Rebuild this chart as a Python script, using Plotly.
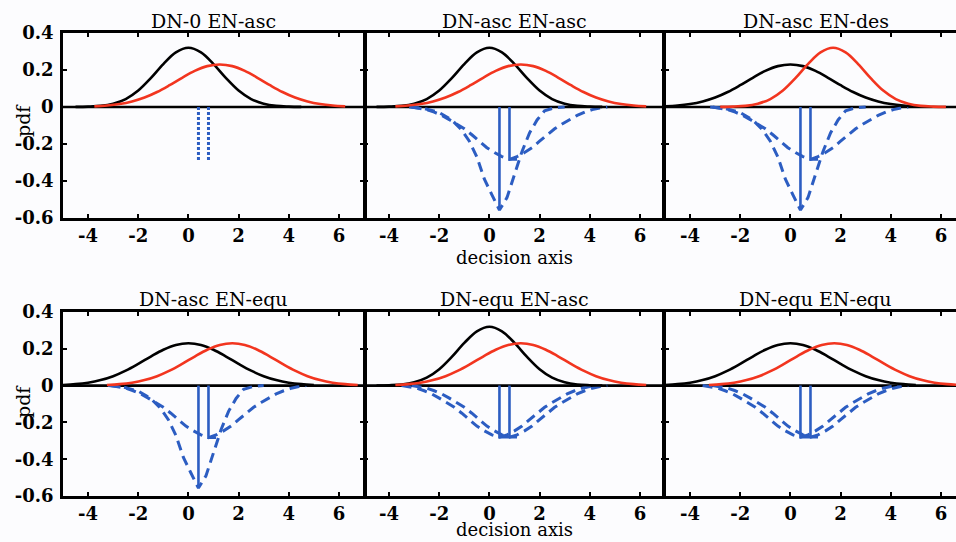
import plotly.graph_objects as go

W, H = 956, 542

# ---------------- data ----------------
X_TICKS = [-4, -2, 0, 2, 4, 6]
Y_TICKS = [-0.6, -0.4, -0.2, 0, 0.2, 0.4]
Y_TICK_TEXT = ["-0.6", "-0.4", "-0.2", "0", "0.2", "0.4"]
PANEL_TITLES = ["DN-0 EN-asc", "DN-asc EN-asc", "DN-asc EN-des",
                "DN-asc EN-equ", "DN-equ EN-asc", "DN-equ EN-equ"]
X_LABEL = "decision axis"
Y_LABEL = "pdf"

# black (noise) pdfs
BLACK_NARROW_X = [-4.5, -4.0, -3.5, -3.0, -2.5, -2.0, -1.5, -1.0, -0.5, 0.0,
                  0.5, 1.0, 1.5, 2.0, 2.5, 3.0, 3.5, 4.0, 4.5]
BLACK_NARROW_Y = [0.0005, 0.002, 0.006, 0.018, 0.043, 0.089, 0.156, 0.232, 0.295, 0.32,
                  0.295, 0.232, 0.156, 0.089, 0.043, 0.018, 0.006, 0.002, 0.0005]
BLACK_BROAD_X = [-5.0, -4.5, -4.0, -3.5, -3.0, -2.5, -2.0, -1.5, -1.0, -0.5, 0.0,
                 0.5, 1.0, 1.5, 2.0, 2.5, 3.0, 3.5, 4.0, 4.5, 5.0]
BLACK_BROAD_Y = [0.0036, 0.0079, 0.016, 0.030, 0.051, 0.081, 0.118, 0.158, 0.195, 0.221, 0.23,
                 0.221, 0.195, 0.158, 0.118, 0.081, 0.051, 0.030, 0.016, 0.0079, 0.0036]

# red (signal) pdfs
RED_ASC_X = [-3.75, -3.25, -2.75, -2.25, -1.75, -1.25, -0.75, -0.25, 0.25, 0.75, 1.25,
             1.75, 2.25, 2.75, 3.25, 3.75, 4.25, 4.75, 5.25, 5.75, 6.25]
RED_ASC_Y = [0.0036, 0.0079, 0.016, 0.030, 0.051, 0.081, 0.118, 0.158, 0.195, 0.221, 0.23,
             0.221, 0.195, 0.158, 0.118, 0.081, 0.051, 0.030, 0.016, 0.0079, 0.0036]
RED_DES_X = [-2.8, -2.3, -1.8, -1.3, -0.8, -0.3, 0.2, 0.7, 1.2, 1.7,
             2.2, 2.7, 3.2, 3.7, 4.2, 4.7, 5.2, 5.7, 6.2]
RED_DES_Y = [0.0005, 0.002, 0.006, 0.018, 0.043, 0.089, 0.156, 0.232, 0.295, 0.32,
             0.295, 0.232, 0.156, 0.089, 0.043, 0.018, 0.006, 0.002, 0.0005]
RED_EQU_X = [-3.25, -2.75, -2.25, -1.75, -1.25, -0.75, -0.25, 0.25, 0.75, 1.25, 1.75,
             2.25, 2.75, 3.25, 3.75, 4.25, 4.75, 5.25, 5.75, 6.25, 6.75]
RED_EQU_Y = [0.0036, 0.0079, 0.016, 0.030, 0.051, 0.081, 0.118, 0.158, 0.195, 0.221, 0.23,
             0.221, 0.195, 0.158, 0.118, 0.081, 0.051, 0.030, 0.016, 0.0079, 0.0036]

# blue dashed (inverted) decision distributions
DN_NARROW_X = [-3.2, -2.6, -2.0, -1.5, -1.1, -0.8, -0.5, -0.2, 0.1, 0.4,
               0.7, 1.0, 1.3, 1.6, 1.9, 2.2, 2.6, 3.0]
DN_NARROW_Y = [0.0, -0.008, -0.03, -0.07, -0.125, -0.185, -0.27, -0.39, -0.475, -0.557,
               -0.49, -0.37, -0.24, -0.14, -0.07, -0.02, -0.004, 0.0]
DN_BROAD_X = [-3.1, -2.8, -2.5, -2.2, -1.9, -1.6, -1.3, -1.0, -0.7, -0.4, -0.1, 0.2, 0.5, 0.8,
              1.1, 1.4, 1.7, 2.0, 2.3, 2.6, 2.9, 3.2, 3.5, 3.8, 4.1, 4.4, 4.7]
DN_BROAD_Y = [0.0, -0.005, -0.014, -0.028, -0.045, -0.068, -0.092, -0.118, -0.15, -0.185, -0.22,
              -0.246, -0.268, -0.283, -0.268, -0.246, -0.22, -0.185, -0.15, -0.118, -0.092,
              -0.068, -0.045, -0.028, -0.014, -0.005, 0.0]
EQU_A_X = [-3.5, -3.2, -2.9, -2.6, -2.3, -2.0, -1.7, -1.4, -1.1, -0.8, -0.5, -0.2, 0.1, 0.4,
           0.7, 1.0, 1.3, 1.6, 1.9, 2.2, 2.5, 2.8, 3.1, 3.4, 3.7, 4.0, 4.3]
EQU_A_Y = [0.0, -0.005, -0.014, -0.028, -0.045, -0.068, -0.092, -0.118, -0.15, -0.185, -0.22,
           -0.246, -0.268, -0.28, -0.268, -0.246, -0.22, -0.185, -0.15, -0.118, -0.092,
           -0.068, -0.045, -0.028, -0.014, -0.005, 0.0]
EQU_B_X = [-3.1, -2.8, -2.5, -2.2, -1.9, -1.6, -1.3, -1.0, -0.7, -0.4, -0.1, 0.2, 0.5, 0.8,
           1.1, 1.4, 1.7, 2.0, 2.3, 2.6, 2.9, 3.2, 3.5, 3.8, 4.1, 4.4, 4.7]
EQU_B_Y = [0.0, -0.005, -0.014, -0.028, -0.045, -0.068, -0.092, -0.118, -0.15, -0.185, -0.22,
           -0.246, -0.268, -0.28, -0.268, -0.246, -0.22, -0.185, -0.15, -0.118, -0.092,
           -0.068, -0.045, -0.028, -0.014, -0.005, 0.0]

# blue solid / dotted criterion markers
MARK_DEEP_X = [0.4, 0.4]
MARK_DEEP_Y = [0.0, -0.557]
MARK_SHALLOW_X = [0.8, 0.8, 1.1]
MARK_SHALLOW_Y = [0.0, -0.283, -0.283]
MARK_EQU1_X = [0.4, 0.4, 1.1]
MARK_EQU1_Y = [0.0, -0.28, -0.28]
MARK_EQU2_X = [0.8, 0.8]
MARK_EQU2_Y = [0.0, -0.28]
DOT1_X = [0.4, 0.4]
DOT2_X = [0.8, 0.8]
DOT_Y = [0.0, -0.29]
ZERO_X = [-5, 7]
ZERO_Y = [0, 0]

PANELS = [
    dict(black=(BLACK_NARROW_X, BLACK_NARROW_Y), red=(RED_ASC_X, RED_ASC_Y), kind="dot"),
    dict(black=(BLACK_NARROW_X, BLACK_NARROW_Y), red=(RED_ASC_X, RED_ASC_Y), kind="asc"),
    dict(black=(BLACK_BROAD_X, BLACK_BROAD_Y), red=(RED_DES_X, RED_DES_Y), kind="asc"),
    dict(black=(BLACK_BROAD_X, BLACK_BROAD_Y), red=(RED_EQU_X, RED_EQU_Y), kind="asc"),
    dict(black=(BLACK_NARROW_X, BLACK_NARROW_Y), red=(RED_ASC_X, RED_ASC_Y), kind="equ"),
    dict(black=(BLACK_BROAD_X, BLACK_BROAD_Y), red=(RED_EQU_X, RED_EQU_Y), kind="equ"),
]

# ---------------- styling ----------------
BLUE = "#2C5DC2"
RED = "#F2351F"
BLACK = "#000000"
SERIF = "DejaVu Serif"
DASH = "10px,6px"

COL_PX = [(63, 364), (364, 665), (665, 956)]
ROW_PX = [(33, 218), (312, 496)]
PX_PER_UNIT = 301 / 12.0

fig = go.Figure()


def add_line(ax, x, y, color, width, dash="solid", shape="linear"):
    fig.add_trace(go.Scatter(
        x=x, y=y, mode="lines", xaxis="x" + ax, yaxis="y" + ax,
        line=dict(color=color, width=width, dash=dash, shape=shape),
        showlegend=False, hoverinfo="skip"))


for i, p in enumerate(PANELS):
    n = i + 1
    ax = "" if n == 1 else str(n)
    add_line(ax, ZERO_X, ZERO_Y, BLACK, 2.6)
    if p["kind"] == "dot":
        add_line(ax, DOT1_X, DOT_Y, BLUE, 3, dash="3px,2px")
        add_line(ax, DOT2_X, DOT_Y, BLUE, 3, dash="3px,2px")
    elif p["kind"] == "asc":
        add_line(ax, DN_NARROW_X, DN_NARROW_Y, BLUE, 3, dash=DASH)
        add_line(ax, DN_BROAD_X, DN_BROAD_Y, BLUE, 3, dash=DASH)
        add_line(ax, MARK_DEEP_X, MARK_DEEP_Y, BLUE, 2.6)
        add_line(ax, MARK_SHALLOW_X, MARK_SHALLOW_Y, BLUE, 2.6)
    else:
        add_line(ax, EQU_A_X, EQU_A_Y, BLUE, 3, dash=DASH)
        add_line(ax, EQU_B_X, EQU_B_Y, BLUE, 3, dash=DASH)
        add_line(ax, MARK_EQU1_X, MARK_EQU1_Y, BLUE, 2.6)
        add_line(ax, MARK_EQU2_X, MARK_EQU2_Y, BLUE, 2.6)
    add_line(ax, p["black"][0], p["black"][1], BLACK, 2.6, shape="spline")
    add_line(ax, p["red"][0], p["red"][1], RED, 2.6, shape="spline")

layout = dict(
    width=W, height=H,
    margin=dict(l=0, r=0, t=0, b=0, autoexpand=False),
    paper_bgcolor="#FCFCFE", plot_bgcolor="#FCFCFE",
    showlegend=False,
)

annotations = []
for i in range(6):
    n = i + 1
    r, c = divmod(i, 3)
    x0, x1 = COL_PX[c]
    ytop, ybot = ROW_PX[r]
    xr_max = -5 + (x1 - x0) / PX_PER_UNIT
    suffix = "" if n == 1 else str(n)
    layout["xaxis" + suffix] = dict(
        domain=[x0 / W, x1 / W], range=[-5, xr_max if c == 2 else 7],
        anchor="y" + suffix, tickmode="array", tickvals=X_TICKS,
        ticktext=[str(t) for t in X_TICKS],
        ticks="inside", ticklen=4, tickwidth=2, tickcolor=BLACK,
        showline=True, linecolor=BLACK, linewidth=2.5, mirror="ticks",
        showgrid=False, zeroline=False, fixedrange=True, automargin=False,
        tickfont=dict(family=SERIF, size=18, color=BLACK, weight="bold"),
        ticklabelstandoff=0,
    )
    layout["yaxis" + suffix] = dict(
        domain=[(H - ybot) / H, (H - ytop) / H], range=[-0.6, 0.4],
        anchor="x" + suffix, tickmode="array", tickvals=Y_TICKS, ticktext=Y_TICK_TEXT,
        ticks="inside", ticklen=4, tickwidth=2, tickcolor=BLACK,
        showline=True, linecolor=BLACK,
        # shared borders are drawn once: by column 1's mirror and column 3's own line
        linewidth=(2.5 if c != 1 else 0.01),
        mirror=("ticks" if c < 2 else False),
        showticklabels=(c == 0),
        showgrid=False, zeroline=False, fixedrange=True, automargin=False,
        tickfont=dict(family=SERIF, size=18, color=BLACK, weight="bold"),
        ticklabelstandoff=3,
    )
    # panel title
    annotations.append(dict(
        text=PANEL_TITLES[i], xref="x" + suffix, x=1, yref="paper",
        y=(H - (21 if r == 0 else 299)) / H, xanchor="center", yanchor="middle",
        showarrow=False, font=dict(family=SERIF, size=19, color=BLACK)))

# shared axis labels
for r in range(2):
    ytop, ybot = ROW_PX[r]
    annotations.append(dict(
        text=X_LABEL, xref="x" + ("2" if r == 0 else "5"), x=1, yref="paper",
        y=(H - (257 if r == 0 else 529)) / H, xanchor="center", yanchor="middle",
        showarrow=False, font=dict(family=SERIF, size=18, color=BLACK)))
    annotations.append(dict(
        text=Y_LABEL, xref="paper", x=23 / W, yref="paper",
        y=(H - (ytop + 88 if r == 0 else ytop + 90)) / H, xanchor="center", yanchor="middle",
        textangle=-90, showarrow=False, font=dict(family=SERIF, size=19, color=BLACK)))

layout["annotations"] = annotations
fig.update_layout(**layout)
fig.write_html("out.html")
